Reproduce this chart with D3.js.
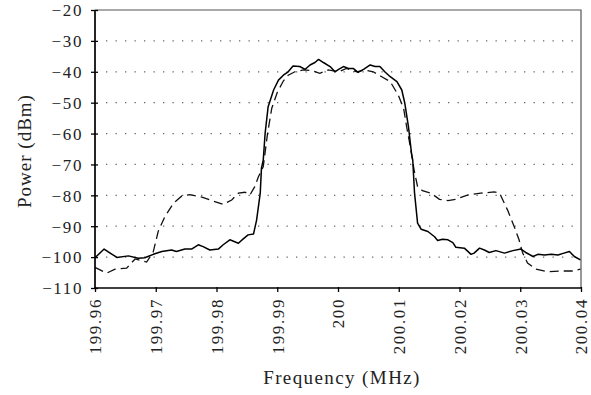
<!DOCTYPE html>
<html><head><meta charset="utf-8">
<script src="https://cdn.jsdelivr.net/npm/d3@7"></script>
<style>body{margin:0;background:#fff}svg{display:block}</style>
</head><body>
<svg id="c" width="591" height="395"></svg>
<script>
// Frequency (MHz) / power (dBm) pairs
const solidFreq = [199.9600,199.9615,199.9625,199.9636,199.9655,199.9671,199.9682,199.9696,199.9710,199.9726,199.9734,199.9748,199.9759,199.9770,199.9778,199.9789,199.9803,199.9811,199.9822,199.9836,199.9844,199.9852,199.9861,199.9866,199.9872,199.9874,199.9877,199.9880,199.9885,199.9894,199.9902,199.9910,199.9918,199.9926,199.9937,199.9946,199.9954,199.9962,199.9968,199.9976,199.9987,199.9995,200.0001,200.0009,200.0017,200.0025,200.0033,200.0042,200.0053,200.0061,200.0069,200.0077,200.0086,200.0097,200.0105,200.0110,200.0116,200.0121,200.0123,200.0126,200.0131,200.0137,200.0148,200.0159,200.0164,200.0172,200.0181,200.0189,200.0194,200.0208,200.0219,200.0224,200.0233,200.0241,200.0249,200.0260,200.0274,200.0288,200.0301,200.0309,200.0321,200.0329,200.0340,200.0351,200.0362,200.0372,200.0381,200.0389,200.0399];
const solidPower = [-100.2,-97.4,-98.7,-100.1,-99.6,-100.4,-100.2,-99.1,-98.2,-97.7,-98.2,-97.4,-97.4,-96.0,-96.6,-97.7,-97.4,-96.0,-94.4,-95.5,-94.1,-92.8,-92.5,-88.0,-79.3,-71.2,-68.5,-60.0,-51.3,-45.9,-42.7,-41.1,-40.0,-38.1,-38.3,-39.2,-37.8,-37.0,-36.0,-37.0,-38.3,-40.0,-39.2,-38.3,-38.9,-38.9,-40.2,-39.2,-37.8,-38.3,-38.3,-40.0,-41.6,-43.2,-45.9,-50.2,-57.8,-66.4,-68.5,-79.3,-89.0,-91.0,-91.7,-93.4,-94.6,-94.2,-94.4,-95.3,-96.8,-97.1,-99.1,-98.7,-97.1,-97.7,-98.5,-97.9,-98.7,-97.9,-97.4,-98.5,-99.8,-99.1,-99.3,-99.1,-99.3,-98.7,-98.2,-99.8,-100.9];

const dashFreq = [199.9600,199.9619,199.9633,199.9652,199.9666,199.9685,199.9696,199.9704,199.9715,199.9729,199.9743,199.9756,199.9776,199.9792,199.9811,199.9825,199.9836,199.9847,199.9855,199.9863,199.9869,199.9877,199.9884,199.9891,199.9900,199.9910,199.9918,199.9929,199.9943,199.9957,199.9970,199.9984,200.0001,200.0014,200.0031,200.0044,200.0058,200.0072,200.0086,200.0099,200.0108,200.0113,200.0119,200.0125,200.0131,200.0139,200.0153,200.0167,200.0181,200.0194,200.0213,200.0235,200.0257,200.0266,200.0279,200.0290,200.0298,200.0304,200.0312,200.0326,200.0345,200.0367,200.0386,200.0399];
const dashPower = [-103.3,-105.2,-103.9,-103.6,-100.6,-101.6,-98.2,-91.7,-86.9,-82.6,-80.2,-79.8,-80.6,-81.7,-82.9,-81.5,-79.3,-79.0,-79.9,-77.2,-74.0,-70.7,-60.0,-51.8,-46.7,-43.0,-41.1,-40.0,-39.4,-39.6,-40.5,-39.4,-40.0,-38.9,-40.0,-39.4,-40.0,-41.6,-43.2,-47.5,-51.8,-57.8,-64.2,-71.5,-77.2,-78.5,-79.3,-81.3,-81.7,-81.3,-79.9,-79.3,-78.9,-79.3,-84.7,-90.1,-94.4,-98.7,-101.9,-103.9,-104.7,-104.5,-104.5,-103.9];

const xTicks = [199.96,199.97,199.98,199.99,200,200.01,200.02,200.03,200.04];
const xTickLabels = ["199.96","199.97","199.98","199.99","200","200.01","200.02","200.03","200.04"];
const yTicks = [-20,-30,-40,-50,-60,-70,-80,-90,-100,-110];
const gridTicks = [-30,-40,-50,-60,-70,-80,-90,-100];
const xTitle = "Frequency (MHz)";
const yTitle = "Power (dBm)";

const L = 95, R = 581, T = 10, B = 288;
const svg = d3.select("#c");
const x = d3.scaleLinear().domain([199.96, 200.04]).range([L, R]);
const y = d3.scaleLinear().domain([-110, -20]).range([B, T]);
const FONT = "'Liberation Serif','Times New Roman',serif";

// grid
svg.append("g").selectAll("line").data(gridTicks).join("line")
  .attr("x1", L + 11).attr("x2", R - 3)
  .attr("y1", d => y(d)).attr("y2", d => y(d))
  .attr("stroke", "#666").attr("stroke-width", 1.3)
  .attr("stroke-dasharray", "1.3,8.2");

// frame top/right
svg.append("path")
  .attr("d", `M${L},${T}H${R}V${B}`)
  .attr("fill", "none").attr("stroke", "#555").attr("stroke-width", 1.2);

// lines
const line = d3.line().x(d => x(d[0])).y(d => y(d[1]));
svg.append("path").datum(dashFreq.map((f, i) => [f, dashPower[i]]))
  .attr("d", line).attr("fill", "none").attr("stroke", "#111")
  .attr("stroke-width", 1.3).attr("stroke-dasharray", "9,5");
svg.append("path").datum(solidFreq.map((f, i) => [f, solidPower[i]]))
  .attr("d", line).attr("fill", "none").attr("stroke", "#000")
  .attr("stroke-width", 1.5).attr("stroke-linejoin", "round");

// y axis
const yAxis = d3.axisLeft(y).tickValues(yTicks).tickSize(0).tickFormat(d => d3.format("")(d).replace("-", "\u2212"));
const ya = svg.append("g").attr("transform", `translate(${L},0)`).call(yAxis);
ya.select(".domain").remove();
ya.selectAll(".tick line").attr("x1", -4).attr("x2", 3).attr("stroke", "#000").attr("stroke-width", 1.3);
ya.selectAll(".tick text").attr("x", -12).attr("dy", "0.34em")
  .attr("font-family", FONT).attr("font-size", 17).style("letter-spacing", "1.6px").attr("fill", "#222");

// x axis
const xAxis = d3.axisBottom(x).tickValues(xTicks).tickSize(0).tickFormat((d, i) => xTickLabels[i]);
const xa = svg.append("g").attr("transform", `translate(0,${B})`).call(xAxis);
xa.select(".domain").remove();
xa.selectAll(".tick line").attr("y1", -1).attr("y2", 4).attr("stroke", "#000").attr("stroke-width", 1.3);
xa.selectAll(".tick text")
  .attr("transform", "rotate(-90)").attr("x", -10).attr("y", 0).attr("dy", "0.34em")
  .attr("text-anchor", "end")
  .attr("font-family", FONT).attr("font-size", 17).style("letter-spacing", "1.6px").attr("fill", "#222");

// axis lines left/bottom
svg.append("path").attr("d", `M${L},${T}V${B}H${R}`)
  .attr("fill", "none").attr("stroke", "#000").attr("stroke-width", 1.7);

// titles
svg.append("text").attr("x", 342).attr("y", 384).attr("text-anchor", "middle")
  .attr("font-family", FONT).attr("font-size", 19).style("letter-spacing", "1.4px").attr("fill", "#222").text(xTitle);
svg.append("text").attr("transform", `translate(31,${(T + B) / 2 + 2}) rotate(-90)`).attr("text-anchor", "middle")
  .attr("font-family", FONT).attr("font-size", 19).style("letter-spacing", "1px").attr("fill", "#222").text(yTitle);
</script>
</body></html>
